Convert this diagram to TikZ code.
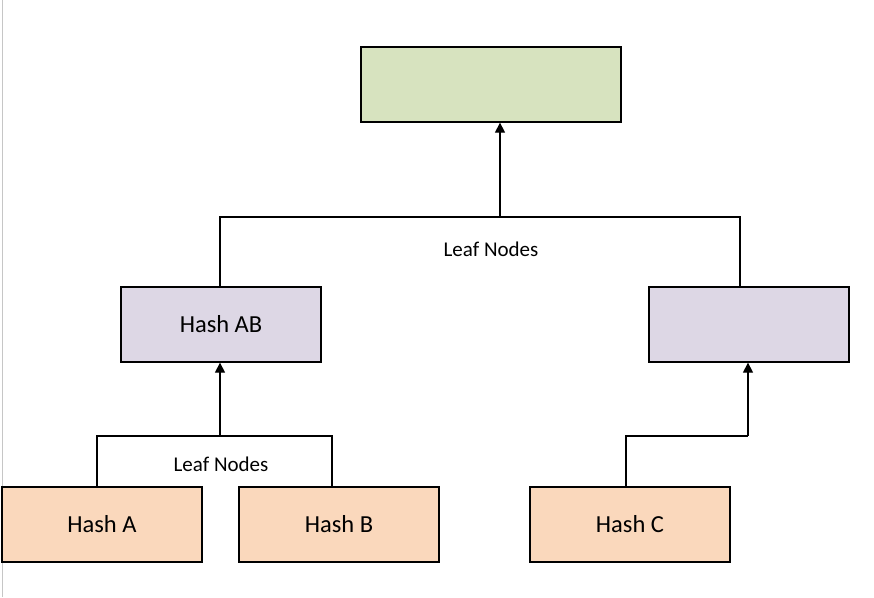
\documentclass[tikz,border=0pt]{standalone}
\usepackage{fontspec}
\setmainfont{Carlito}
\usetikzlibrary{arrows.meta}
\definecolor{topgreen}{RGB}{215,227,191}
\definecolor{midpurple}{RGB}{221,215,229}
\definecolor{leaforange}{RGB}{250,216,188}
\begin{document}
\begin{tikzpicture}[x=1pt,y=-1pt,
  box/.style={draw=black, line width=1.3pt, minimum width=200pt, minimum height=75pt, inner sep=0pt, font=\fontsize{24.5}{28}\selectfont},
  conn/.style={draw=black, line width=1.3pt},
  arr/.style={conn, -{Triangle[width=10pt,length=10pt]}},
  lbl/.style={font=\fontsize{21}{25}\selectfont, inner sep=0pt}]
\useasboundingbox (0,0) rectangle (874,597);
\fill[white] (0,0) rectangle (874,597);
\draw[gray!45, line width=1.2pt] (2.5,0) -- (2.5,597);
% nodes
\node[box, fill=topgreen, minimum width=260pt] (root) at (491,84.5) {};
\node[box, fill=midpurple] (hAB) at (221,324.5) {Hash AB};
\node[box, fill=midpurple] (R) at (749,324.5) {};
\node[box, fill=leaforange] (hA) at (102,524.5) {Hash A};
\node[box, fill=leaforange] (hB) at (339,524.5) {Hash B};
\node[box, fill=leaforange] (hC) at (630,524.5) {Hash C};
% junction coordinates
\coordinate (jAl) at (97,436);
\coordinate (jAr) at (332,436);
\coordinate (jA) at (220,436);
\coordinate (jTl) at (220,217);
\coordinate (jTr) at (740,217);
\coordinate (jT) at (500,217);
\coordinate (jCl) at (626,436);
\coordinate (jC) at (748,436);
% lower left connectors
\draw[conn] (jAl |- hA.north) -- (jAl) -- (jAr) -- (jAr |- hB.north);
\draw[arr] (jA) -- (jA |- hAB.south);
% upper connectors
\draw[conn] (jTl |- hAB.north) -- (jTl) -- (jTr) -- (jTr |- R.north);
\draw[arr] (jT) -- (jT |- root.south);
% right lower connector
\draw[conn] (jCl |- hC.north) -- (jCl) -- (jC);
\draw[arr] (jC) -- (jC |- R.south);
% labels
\node[lbl] (l1) at (491,249) {Leaf Nodes};
\node[lbl] (l2) at (221,464) {Leaf Nodes};
\end{tikzpicture}
\end{document}
